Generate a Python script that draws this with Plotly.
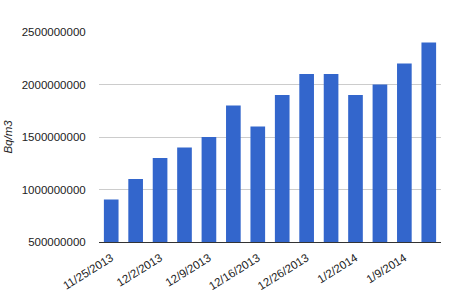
import plotly.graph_objects as go

categories = ["11/25/2013", "11/28/2013", "12/2/2013", "12/5/2013", "12/9/2013", "12/12/2013",
              "12/16/2013", "12/19/2013", "12/26/2013", "12/30/2013", "1/2/2014", "1/6/2014",
              "1/9/2014", "1/13/2014"]
values = [905000000, 1100000000, 1300000000, 1400000000, 1500000000, 1800000000, 1600000000,
          1900000000, 2100000000, 2100000000, 1900000000, 2000000000, 2200000000, 2400000000]
shown_labels = ["11/25/2013", "12/2/2013", "12/9/2013", "12/16/2013", "12/26/2013", "1/2/2014", "1/9/2014"]
y_ticks = [500000000, 1000000000, 1500000000, 2000000000, 2500000000]
y_title = "Bq/m3"

fig = go.Figure(go.Bar(x=categories, y=values, marker=dict(color="#3366cc", line=dict(width=0))))

font = "Arial, Liberation Sans, sans-serif"
fs = 11.5
fig.update_layout(
    width=450, height=301,
    margin=dict(l=99, r=9, t=32, b=59),
    paper_bgcolor="white", plot_bgcolor="white",
    bargap=0.4,
    showlegend=False,
    font=dict(family=font, size=fs, color="#222222"),
)
fig.update_xaxes(
    type="category", automargin=False,
    tickmode="array", tickvals=shown_labels, ticktext=shown_labels,
    tickangle=-32, tickfont=dict(size=fs, color="#222222"),
    showgrid=False, showline=True, linecolor="#333333", linewidth=1,
    ticks="outside", ticklen=4, tickcolor="rgba(0,0,0,0)", range=[-0.5, 13.5],
)
fig.update_yaxes(
    automargin=False,
    range=[500000000, 2500000000],
    tickmode="array", tickvals=y_ticks, ticktext=[str(v) for v in y_ticks],
    showgrid=True, gridcolor="#cccccc", gridwidth=1, zeroline=False,
    ticks="outside", ticklen=10, tickcolor="rgba(0,0,0,0)",
    tickfont=dict(size=fs, color="#222222"),
    title=dict(text="<i>" + y_title + "</i>", font=dict(size=fs, color="#222222"), standoff=6),
)
fig.write_html("out.html")
